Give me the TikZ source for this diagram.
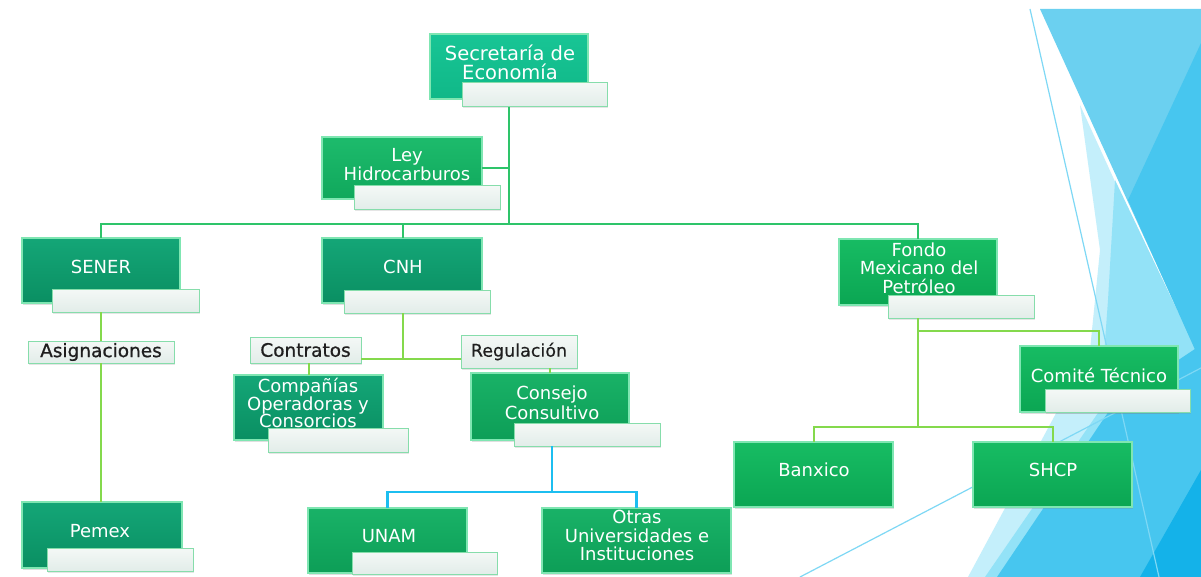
\documentclass[tikz,border=0pt]{standalone}
\usepackage{fontspec}
\setmainfont{DejaVu Sans}
\newfontfamily\tagfont[FakeBold=0.8]{DejaVu Sans}
\newfontfamily\tagfontl[FakeBold=0.4]{DejaVu Sans}
\usetikzlibrary{shadows}
\definecolor{tealA}{HTML}{18C595}
\definecolor{tealAd}{HTML}{10B888}
\definecolor{tealB}{HTML}{14A677}
\definecolor{tealBd}{HTML}{0A8F62}
\definecolor{grnL}{HTML}{1DBB6C}
\definecolor{grnLd}{HTML}{10A85C}
\definecolor{grnF}{HTML}{17BC63}
\definecolor{grnFd}{HTML}{0BA653}
\definecolor{grnC}{HTML}{19B267}
\definecolor{grnCd}{HTML}{0D9E57}
\definecolor{bevel}{HTML}{7FE6B2}
\definecolor{lblA}{HTML}{F4F8F6}
\definecolor{lblB}{HTML}{E2EDE9}
\definecolor{lblline}{HTML}{86DDAB}
\definecolor{trunkc}{HTML}{2EC46A}
\definecolor{limec}{HTML}{84D94C}
\definecolor{bluec}{HTML}{1CBEF0}
\definecolor{bgcyan}{HTML}{C4EFFB}
\definecolor{bglight}{HTML}{93E2F7}
\definecolor{bgmed}{HTML}{6BD0F0}
\definecolor{bgdark}{HTML}{47C6EF}
\definecolor{bgdeep}{HTML}{14B2E9}
\definecolor{bgline}{HTML}{7ED8F5}
\tikzset{
  gbox/.style={rectangle, inner sep=0pt, outer sep=0pt, draw=bevel, line width=1.1pt,
    drop shadow={opacity=0.25, shadow xshift=1.2pt, shadow yshift=-1.5pt}},
  boxA/.style={gbox, top color=tealA, bottom color=tealAd},
  boxB/.style={gbox, top color=tealB, bottom color=tealBd},
  boxL/.style={gbox, top color=grnL, bottom color=grnLd},
  boxF/.style={gbox, top color=grnF, bottom color=grnFd},
  boxC/.style={gbox, top color=grnC, bottom color=grnCd},
  lbl/.style={rectangle, inner sep=0pt, outer sep=0pt, draw=lblline, line width=1pt,
    top color=lblA, bottom color=lblB,
    drop shadow={opacity=0.2, shadow xshift=1pt, shadow yshift=-1.5pt}},
  tag/.style={lbl, text=black!88, font=\tagfont\fontsize{18.5}{20}\selectfont},
  btxt/.style={inner sep=0pt, text=white, align=center, font=\fontsize{18}{18.5}\selectfont},
  trunk/.style={draw=trunkc, line width=2pt},
  lime/.style={draw=limec, line width=2pt},
  bline/.style={draw=bluec, line width=2.5pt},
}
\begin{document}
\begin{tikzpicture}[x=1pt,y=-1pt]
\useasboundingbox (0,0) rectangle (1201,577);
\fill[white] (0,0) rectangle (1201,577);
% background facets
\fill[bgcyan] (1080,105) -- (1201,370) -- (1201,577) -- (968,577) -- (1090,350) -- (1100,250) -- cycle;
\fill[bglight] (1115,180) -- (1201,360) -- (1201,577) -- (985,577) -- (1100,410) -- (1108,300) -- cycle;
\fill[bgmed] (1040,9) -- (1201,9) -- (1201,362) -- cycle;
\fill[bgdark] (1201,43) -- (1128,200) -- (1201,363) -- cycle;
\fill[bgdark] (997,577) -- (1201,577) -- (1201,345) -- (1115,402) -- cycle;
\fill[bgdeep] (1140,577) -- (1201,577) -- (1201,470) -- cycle;
\draw[bgline, line width=1.2pt] (1030,9) -- (1159,577);
\draw[bgline, line width=1.2pt] (800,577) -- (1201,368);

% junctions
\coordinate (j0) at (509,224);
\coordinate (j1) at (403,359);
\coordinate (j2) at (552,492);
\coordinate (j3) at (918,427);
\coordinate (j4) at (918,331);

% boxes
\node[boxA, minimum width=158pt, minimum height=65pt] (sec) at (509,66.5) {};
\node[btxt, font=\fontsize{19.5}{19}\selectfont] (sec-t) at (510,62) {Secretaría de\\Economía};
\node[lbl, minimum width=145pt, minimum height=24pt] (sec-l) at (534.5,95) {};

\node[boxL, minimum width=160pt, minimum height=62pt] (ley) at (402,168) {};
\node[btxt] (ley-t) at (407,164.5) {Ley\\Hidrocarburos};
\node[lbl, minimum width=146pt, minimum height=24pt] (ley-l) at (427,198) {};

\node[boxB, minimum width=158pt, minimum height=65pt] (sener) at (101,270.5) {};
\node[btxt] (sener-t) at (101,267) {SENER};
\node[lbl, minimum width=147pt, minimum height=23pt] (sener-l) at (125.5,300.5) {};

\node[boxB, minimum width=160pt, minimum height=65pt] (cnh) at (402,270.5) {};
\node[btxt] (cnh-t) at (403,267) {CNH};
\node[lbl, minimum width=146pt, minimum height=23pt] (cnh-l) at (417,301.5) {};

\node[boxF, minimum width=158pt, minimum height=66pt] (fondo) at (918,272) {};
\node[btxt] (fondo-t) at (919,268) {Fondo\\Mexicano del\\Petróleo};
\node[lbl, minimum width=146pt, minimum height=23pt] (fondo-l) at (961,306.5) {};

\node[boxF, minimum width=158pt, minimum height=66pt] (comite) at (1099,379) {};
\node[btxt] (comite-t) at (1099,375) {Comité Técnico};
\node[lbl, minimum width=145pt, minimum height=23pt] (comite-l) at (1117.5,400.5) {};

\node[boxF, minimum width=159pt, minimum height=65pt] (banxico) at (813.5,474.5) {};
\node[btxt] (banxico-t) at (814,470) {Banxico};

\node[boxF, minimum width=159pt, minimum height=65pt] (shcp) at (1052.5,474.5) {};
\node[btxt] (shcp-t) at (1053,470) {SHCP};

\node[tag, minimum width=146pt, minimum height=22pt] (asig) at (101,352) {Asignaciones};
\node[tag, minimum width=111pt, minimum height=26pt] (contr) at (305.5,350) {Contratos};
\node[tag, minimum width=116pt, minimum height=33pt, font=\tagfontl\fontsize{17.5}{19}\selectfont] (reg) at (519,351.5) {Regulación};

\node[boxB, minimum width=149pt, minimum height=65pt] (comp) at (308.5,407.5) {};
\node[btxt, font=\fontsize{18}{17.5}\selectfont] (comp-t) at (308,403) {Compañías\\Operadoras y\\Consorcios};
\node[lbl, minimum width=140pt, minimum height=24pt] (comp-l) at (338,440) {};

\node[boxC, minimum width=158pt, minimum height=67pt] (consejo) at (550,406.5) {};
\node[btxt, font=\fontsize{18}{20}\selectfont] (consejo-t) at (552,403) {Consejo\\Consultivo};
\node[lbl, minimum width=146pt, minimum height=23pt] (consejo-l) at (587,434.5) {};

\node[boxB, minimum width=160pt, minimum height=66pt] (pemex) at (102,535) {};
\node[btxt] (pemex-t) at (100,531) {Pemex};
\node[lbl, minimum width=146pt, minimum height=23pt] (pemex-l) at (120,559.5) {};

\node[boxC, minimum width=159pt, minimum height=65pt] (unam) at (387.5,540.5) {};
\node[btxt] (unam-t) at (389,536) {UNAM};
\node[lbl, minimum width=145pt, minimum height=22pt] (unam-l) at (424.5,563) {};

\node[boxC, minimum width=189pt, minimum height=65pt] (otras) at (636.5,540.5) {};
\node[btxt] (otras-t) at (637,535.5) {Otras\\Universidades e\\Instituciones};

% connectors
\draw[trunk] (j0 |- sec-l.south) -- (j0);
\draw[trunk] (ley.east) -- (ley.east -| j0);
\draw[trunk] (sener.north) |- (j0) -| (fondo.north);
\draw[trunk] (cnh.north -| j1) -- (j1 |- j0);
\draw[lime] (sener.north |- sener-l.south) -- (asig.north);
\draw[lime] (asig.south) -- (asig.south |- pemex.north);
\draw[lime] (j1 |- cnh-l.south) -- (j1);
\draw[lime] (contr.east |- j1) -- (reg.west |- j1);
\draw[lime] (comp.north |- contr.south) -- (comp.north);
\draw[lime] (consejo.north |- reg.south) -- (consejo.north);
\draw[bline] (j2 |- consejo-l.south) -- (j2);
\draw[bline] (unam.north) |- (j2) -| (otras.north);
\draw[lime] (j3 |- fondo-l.south) -- (j3);
\draw[lime] (j4) -| (comite.north);
\draw[lime] (banxico.north) |- (j3) -| (shcp.north);
\end{tikzpicture}
\end{document}
